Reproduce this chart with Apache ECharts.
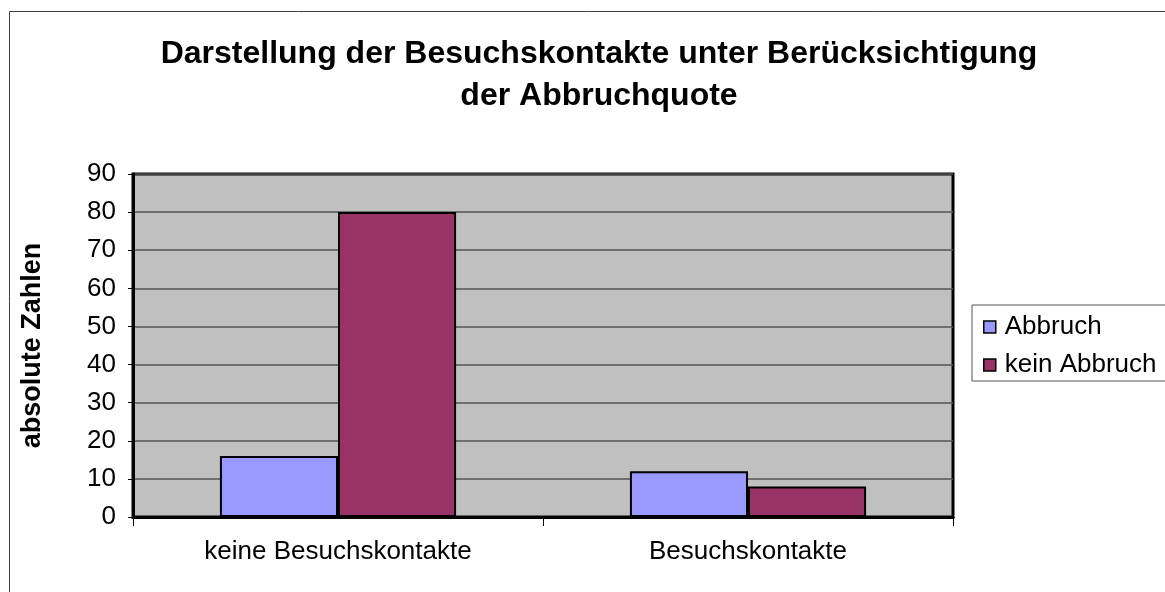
<!DOCTYPE html>
<html>
<head>
<meta charset="utf-8">
<script src="https://cdn.jsdelivr.net/npm/echarts@6/dist/echarts.min.js"></script>
<style>
html,body{margin:0;padding:0;background:#fff;}
#c{width:1165px;height:592px;}
</style>
</head>
<body>
<div id="c"></div>
<script>
const categories = ['keine Besuchskontakte', 'Besuchskontakte'];
const seriesNames = ['Abbruch', 'kein Abbruch'];
const abbruch = [16, 12];
const keinAbbruch = [80, 8];
const yTicks = { min: 0, max: 90, interval: 10 };

const chart = echarts.init(document.getElementById('c'));
const font = '"Liberation Sans", Arial, sans-serif';
chart.setOption({
  backgroundColor: '#ffffff',
  animation: false,
  textStyle: { fontFamily: font },
  title: {
    text: 'Darstellung der Besuchskontakte unter Berücksichtigung\nder Abbruchquote',
    left: 594, top: 28, textAlign: 'center',
    textStyle: { fontFamily: font, fontSize: 32, fontWeight: 'bold', color: '#000', lineHeight: 42 }
  },
  graphic: [{
    type: 'polyline',
    shape: { points: [[9.5, 592], [9.5, 11.5], [1165, 11.5]] },
    style: { stroke: '#404040', lineWidth: 1, fill: null },
    silent: true
  }],
  legend: {
    orient: 'vertical',
    left: 972, top: 305,
    itemWidth: 12, itemHeight: 12, itemGap: 12,
    padding: [9, 25, 3, 11],
    borderColor: '#555', borderWidth: 1,
    backgroundColor: '#fff',
    icon: 'rect',
    itemStyle: { borderColor: '#000', borderWidth: 1.5 },
    textStyle: { fontFamily: font, fontSize: 26, lineHeight: 26, color: '#000', padding: [0, 0, 0, 4] },
    data: seriesNames
  },
  grid: {
    left: 133, top: 174, right: 212, bottom: 75,
    show: true, backgroundColor: '#C0C0C0', borderColor: '#000', borderWidth: 3
  },
  xAxis: {
    type: 'category', data: categories,
    axisLine: { show: true, lineStyle: { color: '#000', width: 3 } },
    axisTick: { show: true, alignWithLabel: false, length: 9, lineStyle: { color: '#000', width: 1 } },
    axisLabel: { fontFamily: font, fontSize: 26, color: '#000', margin: 22 },
    splitLine: { show: false }
  },
  yAxis: {
    type: 'value', min: yTicks.min, max: yTicks.max, interval: yTicks.interval,
    name: 'absolute Zahlen', nameLocation: 'middle', nameGap: 87, nameRotate: 90,
    nameTextStyle: { fontFamily: font, fontSize: 27, fontWeight: 'bold', color: '#000' },
    axisLine: { show: true, lineStyle: { color: '#000', width: 3 } },
    axisTick: { show: true, length: 5, lineStyle: { color: '#000', width: 1 } },
    axisLabel: { fontFamily: font, fontSize: 26, color: '#000', margin: 17 },
    splitLine: { show: true, lineStyle: { color: '#555', width: 1.5 } }
  },
  series: [
    { name: seriesNames[0], type: 'bar', data: abbruch, barWidth: '28.8%', barGap: '0%',
      itemStyle: { color: '#9999FF', borderColor: '#000', borderWidth: 2 } },
    { name: seriesNames[1], type: 'bar', data: keinAbbruch, barWidth: '28.8%', barGap: '0%',
      itemStyle: { color: '#993366', borderColor: '#000', borderWidth: 2 } }
  ]
});
</script>
</body>
</html>
